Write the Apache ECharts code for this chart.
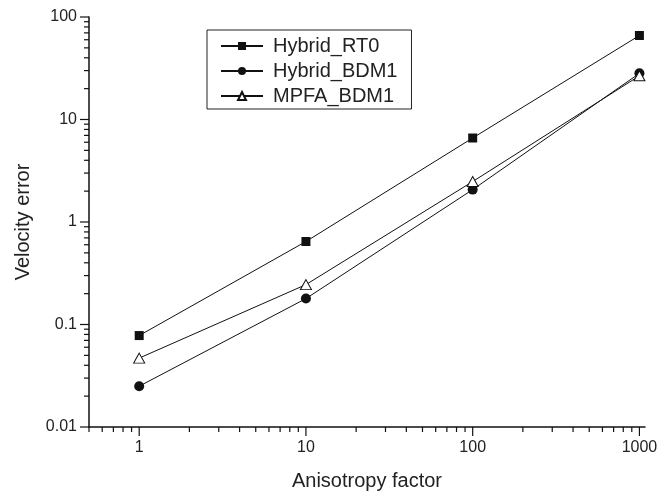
<!DOCTYPE html>
<html>
<head>
<meta charset="utf-8">
<script src="https://cdn.jsdelivr.net/npm/echarts@6/dist/echarts.min.js"></script>
<style>html,body{margin:0;padding:0;background:#fff;}#c{width:657px;height:493px;}</style>
</head>
<body>
<div id="c"></div>
<script>
var anisotropy = [1, 10, 100, 1000];
var hybridRT0 = [0.078, 0.645, 6.6, 66];
var hybridBDM1 = [0.025, 0.179, 2.07, 28.2];
var mpfaBDM1 = [0.047, 0.245, 2.48, 26.7];
var xTickLabels = [1, 10, 100, 1000];
var yTickLabels = [0.01, 0.1, 1, 10, 100];
var xMajorTicks = [1, 10, 100, 1000];
var xMinorTicks = [0.5, 0.6, 0.7, 0.8, 0.9, 2, 3, 4, 5, 6, 7, 8, 9, 20, 30, 40, 50, 60, 70, 80, 90, 200, 300, 400, 500, 600, 700, 800, 900];
var yMajorTicks = [0.01, 0.1, 1, 10, 100];
var yMinorTicks = [0.02, 0.03, 0.04, 0.05, 0.06, 0.07, 0.08, 0.09, 0.2, 0.3, 0.4, 0.5, 0.6, 0.7, 0.8, 0.9, 2, 3, 4, 5, 6, 7, 8, 9, 20, 30, 40, 50, 60, 70, 80, 90];

var X_MIN = 0.5, X_MAX = 1080, Y_MIN = 0.01, Y_MAX = 100;
var FONT = 'Liberation Sans, Arial, sans-serif';

function pair(xs, ys) { return xs.map(function (x, i) { return [x, ys[i]]; }); }
function fmt(list) {
  return function (v) {
    for (var i = 0; i < list.length; i++) {
      if (Math.abs(Math.log10(v) - Math.log10(list[i])) < 1e-6) return String(list[i]);
    }
    return '';
  };
}

function tickSeries(values, len, isX) {
  return {
    type: 'custom',
    silent: true,
    clip: false,
    z: 5,
    data: values.map(function (v) { return isX ? [v, Y_MIN] : [X_MIN, v]; }),
    renderItem: function (params, api) {
      var p = api.coord([api.value(0), api.value(1)]);
      var shape = isX ? { x1: p[0], y1: p[1], x2: p[0], y2: p[1] + len }
                      : { x1: p[0], y1: p[1], x2: p[0] - len, y2: p[1] };
      return { type: 'line', shape: shape, style: { stroke: '#111', lineWidth: 1.2 } };
    }
  };
}

var lineCommon = {
  type: 'line',
  lineStyle: { color: '#111', width: 1 },
  emphasis: { disabled: true },
  z: 3
};

var chart = echarts.init(document.getElementById('c'), null, { renderer: 'canvas' });
chart.setOption({
  animation: false,
  backgroundColor: '#fff',
  textStyle: { fontFamily: FONT },
  grid: { left: 89, right: 12, top: 17, bottom: 66, containLabel: false, outerBoundsMode: 'none' },
  legend: {
    data: ['Hybrid_RT0', 'Hybrid_BDM1', 'MPFA_BDM1'],
    orient: 'vertical',
    left: 207,
    top: 30,
    padding: [6, 14, 3, 13],
    borderColor: '#222',
    borderWidth: 1,
    itemWidth: 42,
    itemHeight: 10,
    itemGap: 5,
    textStyle: { fontSize: 20, color: '#222', fontFamily: FONT, lineHeight: 20, padding: [0, 0, 0, 5] }
  },
  xAxis: {
    type: 'log',
    logBase: 10,
    min: X_MIN,
    max: X_MAX,
    name: 'Anisotropy factor',
    nameLocation: 'middle',
    nameGap: 44,
    nameTextStyle: { fontSize: 20, color: '#222', fontFamily: FONT },
    axisLine: { show: true, onZero: false, lineStyle: { color: '#111', width: 1.5 } },
    axisTick: { show: false },
    minorTick: { show: false },
    splitLine: { show: false },
    axisLabel: { fontSize: 16, color: '#222', margin: 13, formatter: fmt(xTickLabels), fontFamily: FONT }
  },
  yAxis: {
    type: 'log',
    logBase: 10,
    min: Y_MIN,
    max: Y_MAX,
    name: 'Velocity error',
    nameLocation: 'middle',
    nameGap: 56,
    nameTextStyle: { fontSize: 20, color: '#222', fontFamily: FONT },
    axisLine: { show: true, onZero: false, lineStyle: { color: '#111', width: 1.5 } },
    axisTick: { show: false },
    minorTick: { show: false },
    splitLine: { show: false },
    axisLabel: { fontSize: 16, color: '#222', margin: 12, formatter: fmt(yTickLabels), fontFamily: FONT }
  },
  series: [
    Object.assign({}, lineCommon, {
      name: 'Hybrid_RT0',
      data: pair(anisotropy, hybridRT0),
      symbol: 'rect',
      symbolSize: 9,
      itemStyle: { color: '#111', borderWidth: 0 }
    }),
    Object.assign({}, lineCommon, {
      name: 'Hybrid_BDM1',
      data: pair(anisotropy, hybridBDM1),
      symbol: 'circle',
      symbolSize: 10,
      itemStyle: { color: '#111', borderWidth: 0 }
    }),
    Object.assign({}, lineCommon, {
      name: 'MPFA_BDM1',
      data: pair(anisotropy, mpfaBDM1),
      symbol: 'triangle',
      symbolSize: [11, 10],
      itemStyle: { color: '#fff', borderColor: '#111', borderWidth: 1 },
      z: 4
    }),
    tickSeries(xMajorTicks, 9, true),
    tickSeries(xMinorTicks, 5, true),
    tickSeries(yMajorTicks, 9, false),
    tickSeries(yMinorTicks, 5, false)
  ]
});
</script>
</body>
</html>
